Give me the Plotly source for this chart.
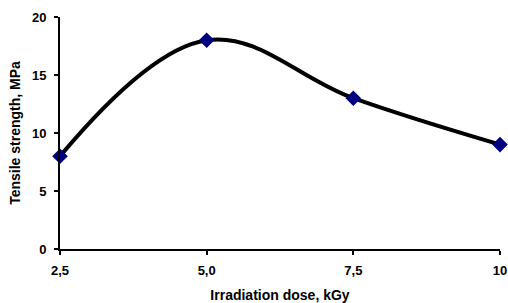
import plotly.graph_objects as go

dose = [2.5, 5.0, 7.5, 10.0]
dose_labels = ["2,5", "5,0", "7,5", "10"]
strength = [8, 18, 13, 9]
y_ticks = [0, 5, 10, 15, 20]

tick_font = dict(family="Liberation Sans, Arial, sans-serif", size=13, color="black")
title_font = dict(family="Liberation Sans, Arial, sans-serif", size=14, color="black")

fig = go.Figure()
fig.add_trace(go.Scatter(
    x=dose, y=strength, mode="lines+markers",
    line=dict(color="black", width=4, shape="spline", smoothing=1.1),
    marker=dict(symbol="diamond", size=12, color="#000080"),
    cliponaxis=False, showlegend=False,
))

fig.update_layout(
    width=508, height=303,
    margin=dict(l=60, r=8, t=17, b=54),
    plot_bgcolor="white", paper_bgcolor="white",
    font=tick_font,
)
fig.update_xaxes(
    range=[2.5, 10], tickvals=dose, ticktext=["<b>%s</b>" % t for t in dose_labels],
    tickfont=tick_font, ticklabeloverflow="allow", ticklabelstandoff=4,
    showgrid=False, zeroline=False, showline=True, linecolor="black", linewidth=2,
    ticks="outside", ticklen=4, tickwidth=2, tickcolor="black",
    automargin=False,
    title=dict(text="<b>Irradiation dose, kGy</b>", standoff=14, font=title_font),
)
fig.update_yaxes(
    range=[0, 20], tickvals=y_ticks, ticktext=["<b>%d</b>" % v for v in y_ticks],
    tickfont=tick_font, ticklabelstandoff=5,
    showgrid=False, zeroline=False, showline=True, linecolor="black", linewidth=2,
    ticks="outside", ticklen=4, tickwidth=2, tickcolor="black",
    automargin=False,
    title=dict(text="<b>Tensile strength, MPa</b>", standoff=8, font=title_font),
)

fig.write_html("out.html", config={"displayModeBar": False},
               post_script="document.body.style.margin='0';")
